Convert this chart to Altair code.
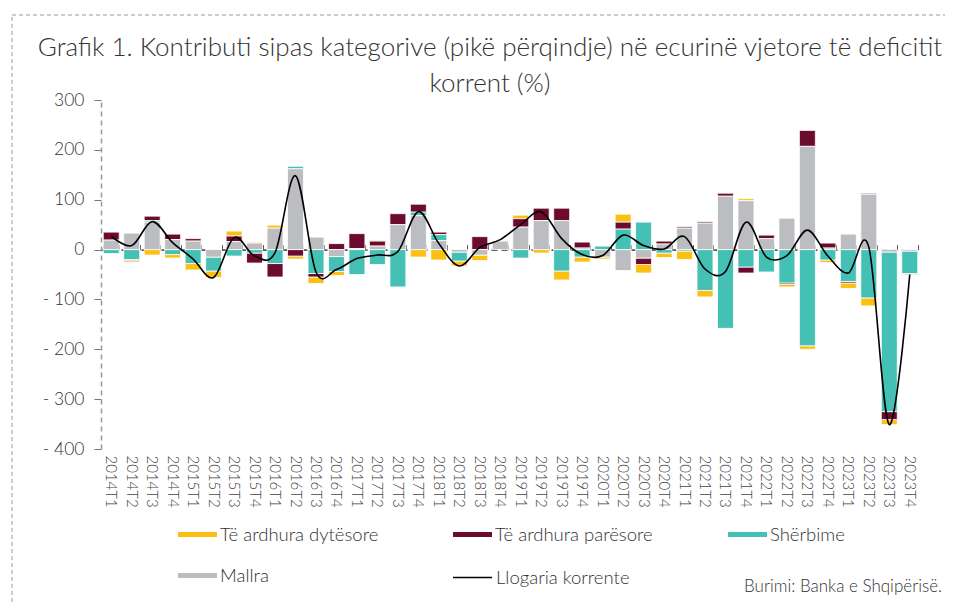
import altair as alt
import pandas as pd

quarters = [f"{y}T{q}" for y in range(2014, 2024) for q in range(1, 5)]

# Contributions (percentage points)
dytesore = [0, -3, -11, -7, -13, -13, 10, 2, 6, -6,
            -13, -8, 0, 2, -1, -15, -21, -10, -11, 3,
            7, -7, -18, -10, -4, 16, -17, -9, -17, -13,
            1, 4, 1, -5, -7, -5, -11, -16, -10, 0]
paresore = [16, -2, 9, 11, 5, 0, 11, -20, -27, -13,
            -7, 12, 30, 10, 22, 16, 5, 0, 26, 0,
            17, 25, 25, 12, 0, 14, -13, 6, 3, 3,
            6, -12, 7, -3, 32, 10, -3, 2, -16, -2]
sherbime = [-8, -20, 3, -10, -28, -28, -13, -7, -28, 5,
            -48, -30, -50, -30, -75, 7, 12, -18, 0, 0,
            -17, 0, -43, -15, 7, 41, 55, -7, -3, -82,
            -158, -35, -45, -67, -193, -21, -64, -97, -320, -45]
mallra = [19, 33, 55, 20, 17, -15, 16, 13, 43, 162,
          25, -14, 2, 7, 50, 68, 18, -5, -11, 17,
          45, 58, 58, 3, -15, -42, -17, 11, 43, 53,
          107, 98, 22, 63, 207, 3, 31, 111, -5, -3]
llogaria = [27, 8, 56, 14, -19, -56, 24, -13, -6, 148,
            -45, -40, -18, -11, -4, 76, 12, -33, 4, 20,
            50, 76, 22, -10, -12, 29, 8, 1, 26, -39,
            -44, 55, -15, -12, 39, -13, -47, 5, -351, -50]

series_names = ["Të ardhura dytësore", "Të ardhura parësore", "Shërbime", "Mallra"]
series_colors = ["#FCBF13", "#6C0B2E", "#45C0B4", "#BCBDC0"]
stack_order = {"Mallra": 0, "Shërbime": 1, "Të ardhura parësore": 2, "Të ardhura dytësore": 3}
series_values = [dytesore, paresore, sherbime, mallra]

title_text = ("Grafik 1. Kontributi sipas kategorive (pikë përqindje) në ecurinë vjetore të deficitit"
              "\nkorrent (%)")
source_text = "Burimi: Banka e Shqipërisë."

rows = []
for name, vals in zip(series_names, series_values):
    for q, v in zip(quarters, vals):
        rows.append({"q": q, "seria": name, "vlera": v, "ord": stack_order[name]})
bars_df = pd.DataFrame(rows)
line_df = pd.DataFrame({"q": quarters, "vlera": llogaria, "seria": "Llogaria korrente"})

FONT = "Lato"
W, H = 819, 349
ZERO_FROM_TOP = H * 300 / 700

xscale = alt.Scale(domain=quarters, paddingInner=0.22, paddingOuter=0.11)
yscale = alt.Scale(domain=[-400, 300], nice=False, zero=False)

bars = alt.Chart(bars_df).mark_bar(stroke="white", strokeWidth=0.8).encode(
    x=alt.X("q:N", scale=xscale, sort=quarters,
            axis=alt.Axis(title=None, labelAngle=90, domain=False, ticks=False,
                          labelPadding=6, labelFontSize=15, labelColor="#444",
                          labelFont=FONT, labelFontWeight=300)),
    y=alt.Y("vlera:Q", scale=yscale, stack="zero",
            axis=alt.Axis(title=None, values=[-400, -300, -200, -100, 0, 100, 200, 300],
                          grid=False, domainDash=[5, 4], domainColor="#999",
                          domainWidth=1.5, tickColor="#777", tickSize=7,
                          labelPadding=10, labelFontSize=17.5, labelColor="#333",
                          labelFont=FONT, labelFontWeight=300,
                          labelExpr="datum.value < 0 ? '- ' + abs(datum.value) : datum.label")),
    color=alt.Color("seria:N",
                    scale=alt.Scale(domain=series_names, range=series_colors),
                    legend=alt.Legend(title=None, orient="none", legendX=77, legendY=415,
                                      direction="horizontal", values=series_names,
                                      columns=3, gridAlign="all", columnPadding=74,
                                      rowPadding=12, symbolType="M-1,-0.13H1V0.13H-1Z",
                                      symbolSize=1521, symbolStrokeWidth=0,
                                      labelFontSize=18.5, labelFont=FONT,
                                      labelFontWeight=300, labelColor="#333",
                                      labelOffset=3, padding=0)),
    order=alt.Order("ord:Q", sort="ascending"),
)

line = alt.Chart(line_df).mark_line(interpolate="cardinal", strokeWidth=1.6).encode(
    x=alt.X("q:N", scale=xscale, sort=quarters,
            axis=alt.Axis(title=None, labels=False, offset=-ZERO_FROM_TOP,
                          domainDash=[6, 4], domainColor="#555", domainWidth=1.8,
                          tickBand="extent", tickSize=5, tickColor="#555")),
    y=alt.Y("vlera:Q", scale=yscale),
    stroke=alt.Stroke("seria:N",
                      scale=alt.Scale(domain=["Llogaria korrente"], range=["#000000"]),
                      legend=alt.Legend(title=None, orient="none", legendX=351, legendY=457,
                                        symbolType="stroke", symbolSize=1521,
                                        symbolStrokeWidth=1.5, labelFontSize=18.5,
                                        labelFont=FONT, labelFontWeight=300,
                                        labelColor="#333", labelOffset=3, padding=0)),
)

frame = alt.Chart(pd.DataFrame({"a": [0]})).mark_rect(
    fill=None, stroke="#999", strokeDash=[4, 3], strokeWidth=1
).encode(x=alt.value(-89), x2=alt.value(900), y=alt.value(-85), y2=alt.value(700))

title = alt.Chart(pd.DataFrame({"t": [title_text]})).mark_text(
    align="center", baseline="alphabetic", fontSize=26, font=FONT, fontWeight=300,
    color="#333", lineBreak="\n", lineHeight=36
).encode(text="t:N", x=alt.value(389), y=alt.value(-44))

source = alt.Chart(pd.DataFrame({"t": [source_text]})).mark_text(
    align="right", baseline="alphabetic", fontSize=17, font=FONT, fontWeight=300,
    color="#333"
).encode(text="t:N", x=alt.value(841), y=alt.value(492))

chart = alt.layer(frame, title, bars, line, source).resolve_axis(x="independent").properties(
    width=W, height=H,
    autosize=alt.AutoSizeParams(type="none"),
    padding={"left": 93, "top": 92, "right": 25, "bottom": 595 - 92 - H},
).configure_view(stroke=None)

chart.save("out.html", embed_options={"renderer": "svg", "actions": False})
